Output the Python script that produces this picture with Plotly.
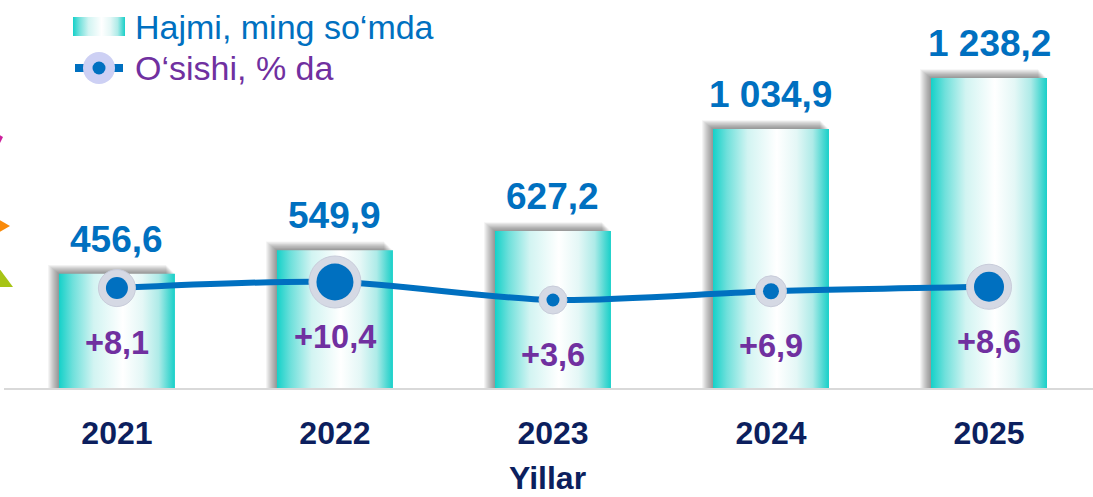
import plotly.graph_objects as go

years = ["2021", "2022", "2023", "2024", "2025"]
volume = [456.6, 549.9, 627.2, 1034.9, 1238.2]
volume_labels = ["456,6", "549,9", "627,2", "1 034,9", "1 238,2"]
growth = [8.1, 10.4, 3.6, 6.9, 8.6]
growth_labels = ["+8,1", "+10,4", "+3,6", "+6,9", "+8,6"]
marker_sizes = [29, 44, 20, 23, 37]

W, H = 1093, 497
ML, MR, MT, MB = 4, 0, 0, 109
PW, PH = W - ML - MR, H - MT - MB
YMAX = 1550
Y2MIN, Y2MAX = -29.6, 116.8
XMIN, XMAX = -0.518, 4.477
BW = 0.532

FONT = "Arial, Liberation Sans, sans-serif"
BLUE = "#0070C0"
PURPLE = "#7030A0"
NAVY = "#0C1F5E"

grad = [[0.0, "#14D1C9"], [0.12, "#6FE0DB"], [0.3, "#D2F4F2"],
        [0.55, "#FFFFFF"], [0.72, "#E4F7F6"], [0.86, "#AEEBE8"],
        [0.95, "#4CD8D2"], [1.0, "#17D0C9"]]

px_x = PW / (XMAX - XMIN)
px_y = PH / YMAX

fig = go.Figure()

# soft shadows behind bars
for i, v in enumerate(volume):
    for off in range(11, 0, -1):
        dx = off / px_x
        dy = (off * 0.8) / px_y
        x0, x1 = i - BW / 2 - dx, i + BW / 2 - 0.8 * dx
        fig.add_trace(go.Scatter(
            x=[x0, x1, x1, x0, x0], y=[0, 0, v + dy, v + dy, 0],
            fill="toself", mode="none", fillcolor="rgba(0,0,0,0.045)",
            showlegend=False, hoverinfo="skip"))

# bars with horizontal gradient
for i, v in enumerate(volume):
    x0, x1 = i - BW / 2, i + BW / 2
    fig.add_trace(go.Scatter(
        x=[x0, x1, x1, x0, x0], y=[0, 0, v, v, 0],
        fill="toself", mode="none",
        fillgradient=dict(type="horizontal", colorscale=grad),
        showlegend=False, hoverinfo="skip"))

# growth line (line, ring, dot)
xs = list(range(len(years)))
fig.add_trace(go.Scatter(
    x=xs, y=growth, yaxis="y2", mode="lines",
    line=dict(color=BLUE, width=6, shape="spline", smoothing=0.8),
    showlegend=False, hoverinfo="skip"))
fig.add_trace(go.Scatter(
    x=xs, y=growth, yaxis="y2", mode="markers",
    marker=dict(size=[s + 8 for s in marker_sizes], color="#D5D9E4", opacity=1,
                line=dict(width=1, color="#C8CCDA")),
    showlegend=False, hoverinfo="skip"))
fig.add_trace(go.Scatter(
    x=xs, y=growth, yaxis="y2", mode="markers",
    marker=dict(size=[s - 7 for s in marker_sizes], color=BLUE, opacity=1, line=dict(width=0)),
    showlegend=False, hoverinfo="skip"))

# custom legend glyphs on a pixel-coordinate overlay axis
fig.add_trace(go.Scatter(
    x=[73, 125, 125, 73, 73], y=[17, 17, 36, 36, 17], xaxis="x3", yaxis="y3",
    fill="toself", mode="none",
    fillgradient=dict(type="horizontal", colorscale=grad),
    showlegend=False, hoverinfo="skip"))
fig.add_trace(go.Scatter(
    x=[75, 123], y=[68, 68], xaxis="x3", yaxis="y3", mode="lines",
    line=dict(color=BLUE, width=8), showlegend=False, hoverinfo="skip"))
fig.add_trace(go.Scatter(
    x=[99, 99], y=[68, 68], xaxis="x3", yaxis="y3", mode="markers",
    marker=dict(size=[32, 13], color=["#CDD0F4", BLUE], opacity=1, line=dict(width=0)),
    showlegend=False, hoverinfo="skip"))

ann = []
for i, (v, t) in enumerate(zip(volume, volume_labels)):
    ann.append(dict(x=i, y=v, xref="x", yref="y", text=f"<b>{t}</b>", showarrow=False,
                    yanchor="bottom", yshift=12,
                    font=dict(family=FONT, size=37, color=BLUE)))
for i, (g, t) in enumerate(zip(growth, growth_labels)):
    ann.append(dict(x=i, y=g, xref="x", yref="y2", text=f"<b>{t}</b>", showarrow=False,
                    yanchor="middle", yshift=-55,
                    font=dict(family=FONT, size=32.5, color=PURPLE)))
ann.append(dict(x=(547 - ML) / PW, y=(388 - 478) / PH, xref="paper", yref="paper",
                text="<b>Yillar</b>", showarrow=False, yanchor="middle",
                font=dict(family=FONT, size=32, color=NAVY)))
ann.append(dict(x=133, y=27, xref="x3", yref="y3", text="Hajmi, ming so‘mda",
                showarrow=False, xanchor="left", yanchor="middle",
                font=dict(family=FONT, size=34, color=BLUE)))
ann.append(dict(x=133, y=68, xref="x3", yref="y3", text="O‘sishi, % da",
                showarrow=False, xanchor="left", yanchor="middle",
                font=dict(family=FONT, size=34, color=PURPLE)))


def P(x, y):
    return f"{(x - ML) / PW:.5f},{(388 - y) / PH:.5f}"


shapes = [
    dict(type="path", xref="paper", yref="paper",
         path=f"M{P(-4,133)} L{P(3,137)} L{P(0,143)} L{P(-4,143)} Z",
         fillcolor="#CC1F9C", line=dict(width=0)),
    dict(type="path", xref="paper", yref="paper",
         path=f"M{P(-4,218)} L{P(10,226)} L{P(-4,234)} Z",
         fillcolor="#F98A0A", line=dict(width=0)),
    dict(type="path", xref="paper", yref="paper",
         path=f"M{P(-4,264)} L{P(13,287)} L{P(-4,287)} Z",
         fillcolor="#A7C416", line=dict(width=0)),
]

fig.update_layout(
    width=W, height=H, margin=dict(l=ML, r=MR, t=MT, b=MB, autoexpand=False),
    plot_bgcolor="white", paper_bgcolor="white",
    font=dict(family=FONT),
    xaxis=dict(range=[XMIN, XMAX], tickvals=xs,
               ticktext=[f"<b>{y}</b>" for y in years],
               tickfont=dict(family=FONT, size=32, color=NAVY),
               ticklabelstandoff=16,
               showgrid=False, zeroline=False, showline=True,
               linecolor="#D9D9D9", linewidth=2, ticks=""),
    yaxis=dict(range=[0, YMAX], visible=False, showgrid=False, zeroline=False),
    yaxis2=dict(range=[Y2MIN, Y2MAX], overlaying="y", visible=False,
                showgrid=False, zeroline=False),
    xaxis3=dict(range=[ML, W - MR], overlaying="x", anchor="y3", visible=False,
                showgrid=False, zeroline=False),
    yaxis3=dict(range=[H - MB, MT], overlaying="y", anchor="x3", visible=False,
                showgrid=False, zeroline=False),
    annotations=ann, shapes=shapes, showlegend=False,
)

fig.write_html("out.html", config={"displayModeBar": False},
               post_script="document.body.style.margin='0px';")
